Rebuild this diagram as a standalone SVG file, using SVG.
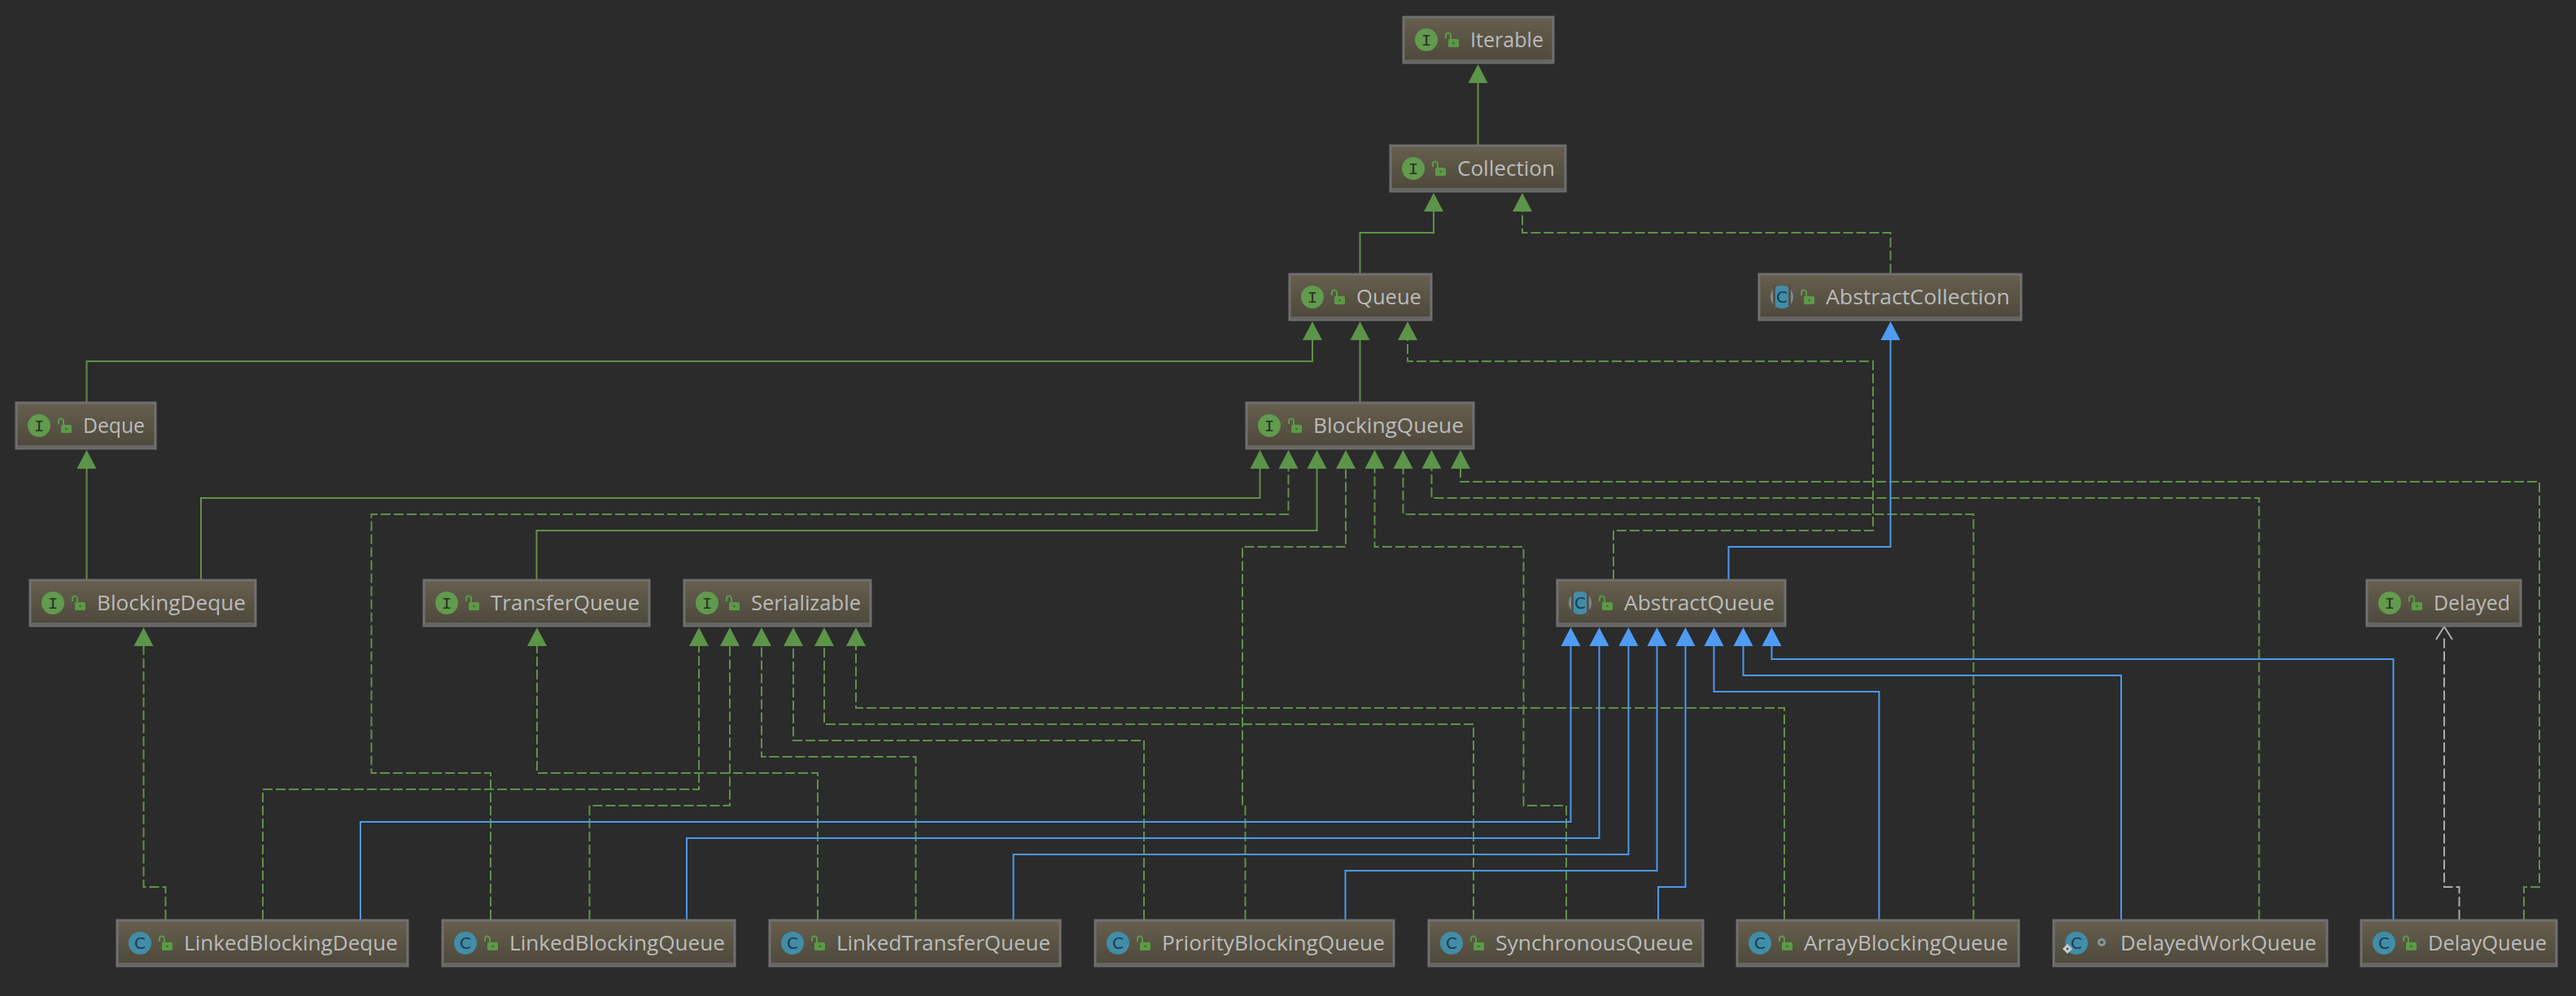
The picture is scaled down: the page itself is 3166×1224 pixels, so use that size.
<svg xmlns="http://www.w3.org/2000/svg" width="3166" height="1224" viewBox="0 0 3166 1224">
  <style>
    .box { fill: url(#nodeFill); stroke: #707070; stroke-width: 3; }
    .band { fill: #666562; }
    .label { font-family: "Open Sans", "DejaVu Sans", sans-serif; font-size: 26px; fill: #BBBBBB; }
    .kind { font-family: "Liberation Mono", monospace; font-size: 21px; fill: #24331F; text-anchor: middle; }
    .kindc { font-family: "DejaVu Sans", sans-serif; font-size: 20px; fill: #1E3A4A; text-anchor: middle; }
    .iface { fill: #629A4E; }
    .cls { fill: #418DA8; }
    .wire { fill: none; stroke-width: 2; }
    .sg { stroke: #5E9148; }
    .dg { stroke: #5E9148; stroke-dasharray: 12 4; }
    .sb { stroke: #4C98F0; }
    .dw { stroke: #ABABAB; stroke-dasharray: 12 4; }
  </style>
  <defs>
    <linearGradient id="nodeFill" x1="0" y1="0" x2="0" y2="1">
      <stop offset="0" stop-color="#675F4E"/>
      <stop offset="1" stop-color="#4C483B"/>
    </linearGradient>
    <path id="ah" d="M0 0 L12 23 L-12 23 Z"/>
    <g id="lock" fill="#5B9A46">
      <rect x="4" y="8" width="13" height="10" rx="1.5"/>
      <path d="M1 7 V3.5 A3 3 0 0 1 7 3.5 V8" fill="none" stroke="#5B9A46" stroke-width="2"/>
      <rect x="9.5" y="12" width="2" height="2" fill="#3E5A32"/>
    </g>
    <g id="ic-i">
      <circle cx="28" cy="28" r="14" class="iface"/>
      <text x="28" y="35" class="kind">I</text>
    </g>
    <g id="ic-c">
      <circle cx="28" cy="28" r="14" class="cls"/>
      <text x="28" y="35" class="kindc">C</text>
    </g>
    <clipPath id="absBand"><rect x="20" y="12" width="16" height="32"/></clipPath>
    <g id="ic-a">
      <circle cx="28" cy="28" r="14" fill="#7F8A8C"/>
      <rect x="17" y="12" width="3" height="32" fill="#55524A"/>
      <rect x="36" y="12" width="3" height="32" fill="#55524A"/>
      <circle cx="28" cy="28" r="14" class="cls" clip-path="url(#absBand)"/>
      <text x="28" y="35" class="kindc">C</text>
    </g>
  </defs>

  <rect width="3166" height="1224" fill="#2B2B2B"/>

  <g id="connectors">
    <!-- interface inheritance -->
    <path class="wire sg" d="M1816.5 178V100"/>
    <path class="wire sg" d="M1671.5 336V286H1762V100" transform="translate(0 0)" style="display:none"/>
    <path class="wire sg" d="M1671.5 336V286H1762V258"/>
    <path class="wire sg" d="M106.5 494V444H1613V416"/>
    <path class="wire sg" d="M1671.5 494V416"/>
    <path class="wire sg" d="M106.5 712V574"/>
    <path class="wire sg" d="M247 712V612H1548.5V574"/>
    <path class="wire sg" d="M659.5 712V652H1618.5V574"/>

    <!-- interface realisation -->
    <path class="wire dg" d="M2323.5 336V286H1871V258"/>
    <path class="wire dg" d="M1983 712V652H2302V444H1730V416"/>
    <path class="wire dg" d="M603 1130V950H456.5V632H1583.5V574"/>
    <path class="wire dg" d="M1530.5 1130V990H1527V672H1654V574"/>
    <path class="wire dg" d="M1925 1130V990H1872.5V672H1689.5V574"/>
    <path class="wire dg" d="M2425.5 1130V632H1724.5V574"/>
    <path class="wire dg" d="M2776.5 1130V612H1759.5V574"/>
    <path class="wire dg" d="M3102 1130V1090H3121V592H1795V574"/>
    <path class="wire dg" d="M203.5 1130V1090H176.5V792"/>
    <path class="wire dg" d="M1005 1130V950H660V792"/>
    <path class="wire dg" d="M323 1130V970H859V792"/>
    <path class="wire dg" d="M724.5 1130V990H897V792"/>
    <path class="wire dg" d="M1125.5 1130V930H936V792"/>
    <path class="wire dg" d="M1406 1130V910H975V792"/>
    <path class="wire dg" d="M1811 1130V890H1013V792"/>
    <path class="wire dg" d="M2193 1130V870H1052V792"/>

    <!-- class inheritance -->
    <path class="wire sb" d="M2124.5 712V672H2323.5V416"/>
    <path class="wire sb" d="M443 1130V1010H1930.5V792"/>
    <path class="wire sb" d="M844 1130V1030H1965.5V792"/>
    <path class="wire sb" d="M1245.5 1130V1050H2001.5V792"/>
    <path class="wire sb" d="M1653.5 1130V1070H2036.5V792"/>
    <path class="wire sb" d="M2038 1130V1090H2071.5V792"/>
    <path class="wire sb" d="M2309.5 1130V850H2106.5V792"/>
    <path class="wire sb" d="M2607 1130V830H2142.5V792"/>
    <path class="wire sb" d="M2941.5 1130V810H2177.5V792"/>

    <!-- dependency -->
    <path class="wire dw" d="M3022.5 1130V1090H3004V784"/>
    <path class="wire" stroke="#ABABAB" d="M2994 786L3004 770L3014 786"/>

    <!-- arrowheads -->
    <g fill="#5C9449">
      <use href="#ah" x="1816.5" y="79"/>
      <use href="#ah" x="1762" y="237"/>
      <use href="#ah" x="1871" y="237"/>
      <use href="#ah" x="1613" y="395"/>
      <use href="#ah" x="1671.5" y="395"/>
      <use href="#ah" x="1730" y="395"/>
      <use href="#ah" x="106.5" y="553"/>
      <use href="#ah" x="1548.5" y="553"/>
      <use href="#ah" x="1583.5" y="553"/>
      <use href="#ah" x="1618.5" y="553"/>
      <use href="#ah" x="1654" y="553"/>
      <use href="#ah" x="1689.5" y="553"/>
      <use href="#ah" x="1724.5" y="553"/>
      <use href="#ah" x="1759.5" y="553"/>
      <use href="#ah" x="1795" y="553"/>
      <use href="#ah" x="176.5" y="771"/>
      <use href="#ah" x="660" y="771"/>
      <use href="#ah" x="859" y="771"/>
      <use href="#ah" x="897" y="771"/>
      <use href="#ah" x="936" y="771"/>
      <use href="#ah" x="975" y="771"/>
      <use href="#ah" x="1013" y="771"/>
      <use href="#ah" x="1052" y="771"/>
    </g>
    <g fill="#4F9CF5">
      <use href="#ah" x="2323.5" y="395"/>
      <use href="#ah" x="1930.5" y="771"/>
      <use href="#ah" x="1965.5" y="771"/>
      <use href="#ah" x="2001.5" y="771"/>
      <use href="#ah" x="2036.5" y="771"/>
      <use href="#ah" x="2071.5" y="771"/>
      <use href="#ah" x="2106.5" y="771"/>
      <use href="#ah" x="2142.5" y="771"/>
      <use href="#ah" x="2177.5" y="771"/>
    </g>
  </g>

  <g id="Iterable" transform="translate(1725 21)"><rect class="box" width="184" height="56"/><rect class="band" x="1" y="52" width="182" height="4"/><use href="#ic-i"/><use href="#lock" x="51" y="19"/><text class="label" x="82" y="37" textLength="90" lengthAdjust="spacingAndGlyphs">Iterable</text></g>
  <g id="Collection" transform="translate(1709 179)"><rect class="box" width="215" height="56"/><rect class="band" x="1" y="52" width="213" height="4"/><use href="#ic-i"/><use href="#lock" x="51" y="19"/><text class="label" x="82" y="37" textLength="120" lengthAdjust="spacingAndGlyphs">Collection</text></g>
  <g id="Queue" transform="translate(1585 337)"><rect class="box" width="174" height="56"/><rect class="band" x="1" y="52" width="172" height="4"/><use href="#ic-i"/><use href="#lock" x="51" y="19"/><text class="label" x="82" y="37" textLength="80" lengthAdjust="spacingAndGlyphs">Queue</text></g>
  <g id="AbstractCollection" transform="translate(2162 337)"><rect class="box" width="322" height="56"/><rect class="band" x="1" y="52" width="320" height="4"/><use href="#ic-a"/><use href="#lock" x="51" y="19"/><text class="label" x="82" y="37" textLength="226" lengthAdjust="spacingAndGlyphs">AbstractCollection</text></g>
  <g id="Deque" transform="translate(20 495)"><rect class="box" width="171" height="56"/><rect class="band" x="1" y="52" width="169" height="4"/><use href="#ic-i"/><use href="#lock" x="51" y="19"/><text class="label" x="82" y="37" textLength="76" lengthAdjust="spacingAndGlyphs">Deque</text></g>
  <g id="BlockingQueue" transform="translate(1532 495)"><rect class="box" width="279" height="56"/><rect class="band" x="1" y="52" width="277" height="4"/><use href="#ic-i"/><use href="#lock" x="51" y="19"/><text class="label" x="82" y="37" textLength="185" lengthAdjust="spacingAndGlyphs">BlockingQueue</text></g>
  <g id="BlockingDeque" transform="translate(37 713)"><rect class="box" width="277" height="56"/><rect class="band" x="1" y="52" width="275" height="4"/><use href="#ic-i"/><use href="#lock" x="51" y="19"/><text class="label" x="82" y="37" textLength="183" lengthAdjust="spacingAndGlyphs">BlockingDeque</text></g>
  <g id="TransferQueue" transform="translate(521 713)"><rect class="box" width="277" height="56"/><rect class="band" x="1" y="52" width="275" height="4"/><use href="#ic-i"/><use href="#lock" x="51" y="19"/><text class="label" x="82" y="37" textLength="183" lengthAdjust="spacingAndGlyphs">TransferQueue</text></g>
  <g id="Serializable" transform="translate(841 713)"><rect class="box" width="229" height="56"/><rect class="band" x="1" y="52" width="227" height="4"/><use href="#ic-i"/><use href="#lock" x="51" y="19"/><text class="label" x="82" y="37" textLength="135" lengthAdjust="spacingAndGlyphs">Serializable</text></g>
  <g id="AbstractQueue" transform="translate(1914 713)"><rect class="box" width="280" height="56"/><rect class="band" x="1" y="52" width="278" height="4"/><use href="#ic-a"/><use href="#lock" x="51" y="19"/><text class="label" x="82" y="37" textLength="185" lengthAdjust="spacingAndGlyphs">AbstractQueue</text></g>
  <g id="Delayed" transform="translate(2909 713)"><rect class="box" width="189" height="56"/><rect class="band" x="1" y="52" width="187" height="4"/><use href="#ic-i"/><use href="#lock" x="51" y="19"/><text class="label" x="82" y="37" textLength="94" lengthAdjust="spacingAndGlyphs">Delayed</text></g>
  <g id="LinkedBlockingDeque" transform="translate(144 1131)"><rect class="box" width="357" height="56"/><rect class="band" x="1" y="52" width="355" height="4"/><use href="#ic-c"/><use href="#lock" x="51" y="19"/><text class="label" x="82" y="37" textLength="263" lengthAdjust="spacingAndGlyphs">LinkedBlockingDeque</text></g>
  <g id="LinkedBlockingQueue" transform="translate(544 1131)"><rect class="box" width="359" height="56"/><rect class="band" x="1" y="52" width="357" height="4"/><use href="#ic-c"/><use href="#lock" x="51" y="19"/><text class="label" x="82" y="37" textLength="265" lengthAdjust="spacingAndGlyphs">LinkedBlockingQueue</text></g>
  <g id="LinkedTransferQueue" transform="translate(946 1131)"><rect class="box" width="357" height="56"/><rect class="band" x="1" y="52" width="355" height="4"/><use href="#ic-c"/><use href="#lock" x="51" y="19"/><text class="label" x="82" y="37" textLength="263" lengthAdjust="spacingAndGlyphs">LinkedTransferQueue</text></g>
  <g id="PriorityBlockingQueue" transform="translate(1346 1131)"><rect class="box" width="367" height="56"/><rect class="band" x="1" y="52" width="365" height="4"/><use href="#ic-c"/><use href="#lock" x="51" y="19"/><text class="label" x="82" y="37" textLength="274" lengthAdjust="spacingAndGlyphs">PriorityBlockingQueue</text></g>
  <g id="SynchronousQueue" transform="translate(1756 1131)"><rect class="box" width="337" height="56"/><rect class="band" x="1" y="52" width="335" height="4"/><use href="#ic-c"/><use href="#lock" x="51" y="19"/><text class="label" x="82" y="37" textLength="243" lengthAdjust="spacingAndGlyphs">SynchronousQueue</text></g>
  <g id="ArrayBlockingQueue" transform="translate(2135 1131)"><rect class="box" width="346" height="56"/><rect class="band" x="1" y="52" width="344" height="4"/><use href="#ic-c"/><use href="#lock" x="51" y="19"/><text class="label" x="82" y="37" textLength="251" lengthAdjust="spacingAndGlyphs">ArrayBlockingQueue</text></g>
  <g id="DelayedWorkQueue" transform="translate(2524 1131)"><rect class="box" width="336" height="56"/><rect class="band" x="1" y="52" width="334" height="4"/><use href="#ic-c"/><path d="M17 29L23 35L17 41L11 35Z" fill="#C6CCD0"/><circle cx="17" cy="35" r="1.6" fill="#4C5A60"/><circle cx="59" cy="27" r="5" fill="#8C9496"/><circle cx="59" cy="27" r="2" fill="#4F4B40"/><text class="label" x="82" y="37" textLength="241" lengthAdjust="spacingAndGlyphs">DelayedWorkQueue</text></g>
  <g id="DelayQueue" transform="translate(2902 1131)"><rect class="box" width="240" height="56"/><rect class="band" x="1" y="52" width="238" height="4"/><use href="#ic-c"/><use href="#lock" x="51" y="19"/><text class="label" x="82" y="37" textLength="146" lengthAdjust="spacingAndGlyphs">DelayQueue</text></g>
</svg>
